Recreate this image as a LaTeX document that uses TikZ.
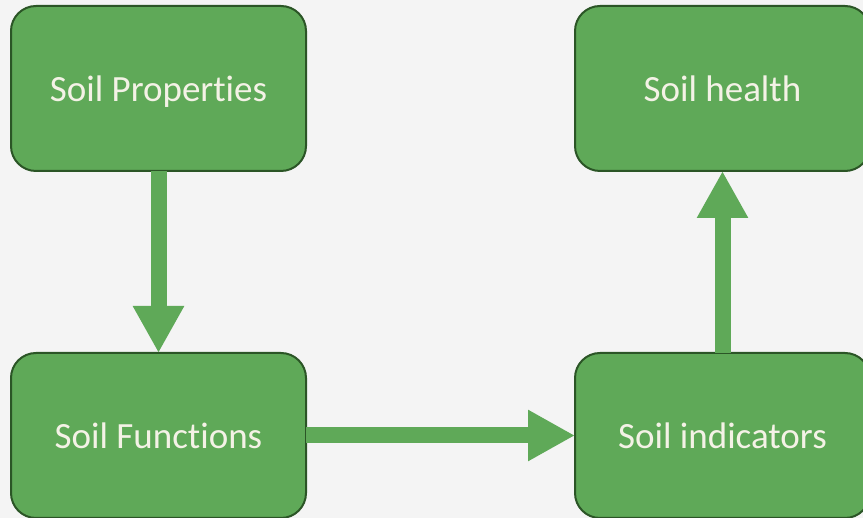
\documentclass[tikz,border=0pt]{standalone}
\usepackage{fontspec}
\setmainfont{Carlito}[Ligatures={NoCommon}]
\usetikzlibrary{arrows.meta}
\definecolor{bgcol}{HTML}{F4F4F4}
\definecolor{boxfill}{HTML}{5FA958}
\definecolor{boxedge}{HTML}{2B5526}
\definecolor{labelcol}{HTML}{F4F2E6}
\tikzset{
  soilbox/.style={draw=boxedge, line width=2pt, fill=boxfill, rounded corners=25pt,
    minimum width=295pt, minimum height=165pt, inner sep=0pt, outer sep=0pt,
    text height=27pt, text depth=0pt,
    text=labelcol, font=\fontsize{37}{44}\selectfont},
  bigarrow/.style={draw=boxfill, line width=16pt,
    -{Triangle[width=48pt,length=47pt]}},
}
\begin{document}
\begin{tikzpicture}[x=1pt,y=-1pt]
  \fill[bgcol] (0,0) rectangle (863,518);
  \useasboundingbox (0,0) rectangle (863,518);
  \begin{scope}
    \clip (0,0) rectangle (863,518);
    \node[soilbox] (props)  at (158.5,88.5)  {Soil Properties};
    \node[soilbox] (health) at (722.5,88.5)  {Soil health};
    \node[soilbox] (funcs)  at (158.5,435.5) {Soil Functions};
    \node[soilbox] (ind)    at (722.5,435.5) {Soil indicators};
    \draw[bigarrow] (props.south) -- (funcs.north);
    \draw[bigarrow] (funcs.east) -- (ind.west);
    \draw[bigarrow] (ind.north) -- (health.south);
  \end{scope}
\end{tikzpicture}
\end{document}
